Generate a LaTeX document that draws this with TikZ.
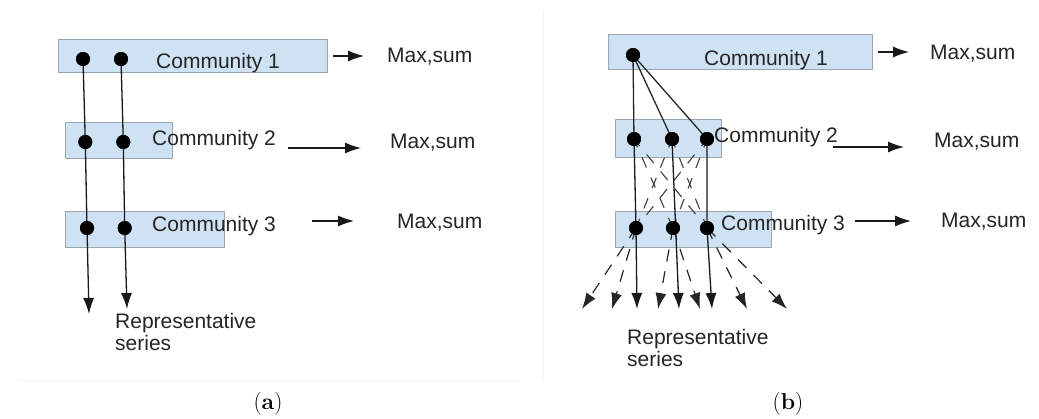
\documentclass[tikz,border=0pt]{standalone}
\usepackage{fontspec}
\newfontfamily\arial{Liberation Sans}
\usetikzlibrary{arrows.meta}
\definecolor{boxfill}{HTML}{CFE2F3}
\definecolor{boxline}{HTML}{9AA5AE}
\definecolor{txt}{HTML}{252525}
\tikzset{
  commbox/.style={draw=boxline, line width=1pt, fill=boxfill, inner sep=0pt},
  dot/.style={circle, fill=black, inner sep=0pt, minimum size=14pt},
  lbl/.style={anchor=base west, inner sep=0pt, text=txt, font=\arial\fontsize{21}{23}\selectfont},
  replbl/.style={anchor=base west, inner sep=0pt, text=txt, align=left, font=\arial\fontsize{21}{22}\selectfont},
  arr/.style={line width=1.3pt, draw=black!90, -{Latex[length=16pt,width=11pt]}},
  link/.style={line width=1.3pt, draw=black!85},
  dlink/.style={line width=1.1pt, draw=black!75, dash pattern=on 11pt off 11pt, dash phase=2pt},
  darr/.style={line width=1.2pt, draw=black!85, dash pattern=on 12pt off 10pt, -{Latex[length=16pt,width=11pt]}},
  captionlbl/.style={inner sep=0pt, font=\fontsize{23}{26}\selectfont}
}
\begin{document}
\begin{tikzpicture}[x=1pt,y=-1pt]
\path[fill=white] (0,0) rectangle (1039,418);
\useasboundingbox (0,0) rectangle (1039,418);
% separators
\draw[gray!12, line width=0.8pt] (20,380) -- (520,380);
\draw[gray!12, line width=0.8pt] (543,10) -- (543,380);

% ================= panel (a) =================
\node[commbox, minimum width=269pt, minimum height=33pt] (a1) at (192.5,55.5) {};
\node[commbox, minimum width=107pt, minimum height=36pt] (a2) at (118.5,140) {};
\node[commbox, minimum width=159pt, minimum height=36pt] (a3) at (144.5,229) {};

\node[lbl] (ta1) at (156,68) {Community 1};
\node[lbl] (ta2) at (152,145) {Community 2};
\node[lbl] (ta3) at (152,231) {Community 3};

\node[lbl] (ma1) at (387,62) {Max,sum};
\node[lbl] (ma2) at (390,148) {Max,sum};
\node[lbl] (ma3) at (397,228) {Max,sum};

\coordinate (ha1s) at (333,56);  \coordinate (ha1e) at (364,56);
\coordinate (ha2s) at (288,148); \coordinate (ha2e) at (361,148);
\coordinate (ha3s) at (312,221); \coordinate (ha3e) at (354,221);
\draw[arr] (ha1s) -- (ha1e);
\draw[arr] (ha2s) -- (ha2e);
\draw[arr] (ha3s) -- (ha3e);

\node[dot] (a11) at (83,59) {};
\node[dot] (a12) at (121,59) {};
\node[dot] (a21) at (85.3,142) {};
\node[dot] (a22) at (123.3,142) {};
\node[dot] (a31) at (87,228) {};
\node[dot] (a32) at (124.7,228) {};

\coordinate (ea1) at (89,314);
\coordinate (ea2) at (127,309);
\draw[arr] (a11.center) -- (a21.center) -- (a31.center) -- (ea1);
\draw[arr] (a12.center) -- (a22.center) -- (a32.center) -- (ea2);
\foreach \n in {a11,a12,a21,a22,a31,a32} \fill (\n) circle (7pt);

\node[replbl] (ra) at (115,350) {Representative\\series};

\node[captionlbl] (capa) at (268,404) {(\textbf{a})};

% ================= panel (b) =================
\node[commbox, minimum width=264pt, minimum height=35pt] (b1) at (740,51.5) {};
\node[commbox, minimum width=106pt, minimum height=38pt] (b2) at (668,138) {};
\node[commbox, minimum width=156pt, minimum height=36pt] (b3) at (693,229) {};

\node[lbl] (tb1) at (704,65) {Community 1};
\node[lbl] (tb2) at (714,142) {Community 2};
\node[lbl] (tb3) at (721,230) {Community 3};

\node[lbl] (mb1) at (930,59) {Max,sum};
\node[lbl] (mb2) at (934,147) {Max,sum};
\node[lbl] (mb3) at (941,227) {Max,sum};

\coordinate (hb1s) at (878,52);  \coordinate (hb1e) at (909,52);
\coordinate (hb2s) at (833,147); \coordinate (hb2e) at (904,147);
\coordinate (hb3s) at (855,221); \coordinate (hb3e) at (911,221);
\draw[arr] (hb1s) -- (hb1e);
\draw[arr] (hb2s) -- (hb2e);
\draw[arr] (hb3s) -- (hb3e);

\node[dot] (b11) at (633,55) {};
\node[dot] (b21) at (634,139) {};
\node[dot] (b22) at (672,139) {};
\node[dot] (b23) at (707,139) {};
\node[dot] (b31) at (636,228) {};
\node[dot] (b32) at (673,228) {};
\node[dot] (b33) at (707,228) {};

% C1 -> C2
\draw[link] (b11.center) -- (b21.center);
\draw[link] (b11.center) -- (b22.center);
\draw[link] (b11.center) -- (b23.center);

% C2 -> C3 dashed crossings
\draw[dlink] (b21.center) -- (b32.center);
\draw[dlink] (b21.center) -- (b33.center);
\draw[dlink] (b22.center) -- (b31.center);
\draw[dlink] (b22.center) -- (b33.center);
\draw[dlink] (b23.center) -- (b31.center);
\draw[dlink] (b23.center) -- (b32.center);

% solid verticals
\coordinate (eb1) at (637,309);
\coordinate (eb2) at (679,309);
\coordinate (eb3) at (712,309);
\draw[arr] (b21.center) -- (b31.center) -- (eb1);
\draw[arr] (b22.center) -- (eb2);
\draw[arr] (b23.center) -- (b33.center) -- (eb3);

% dashed fan
\coordinate (fb1) at (582,309);
\coordinate (fb2) at (612,309);
\coordinate (fb3) at (658,309);
\coordinate (fb4) at (700,309);
\coordinate (fb5) at (747,309);
\coordinate (fb6) at (787,309);
\draw[darr] (b31.center) -- (fb1);
\draw[darr] (b31.center) -- (fb2);
\draw[darr] (b32.center) -- (fb3);
\draw[darr] (b32.center) -- (fb4);
\draw[darr] (b33.center) -- (fb5);
\draw[darr] (b33.center) -- (fb6);

% dots on top
\foreach \n in {b11,b21,b22,b23,b31,b32,b33} \fill (\n) circle (7pt);

\node[replbl] (rb) at (627,366) {Representative\\series};

\node[captionlbl] (capb) at (788,404) {(\textbf{b})};
\end{tikzpicture}
\end{document}
